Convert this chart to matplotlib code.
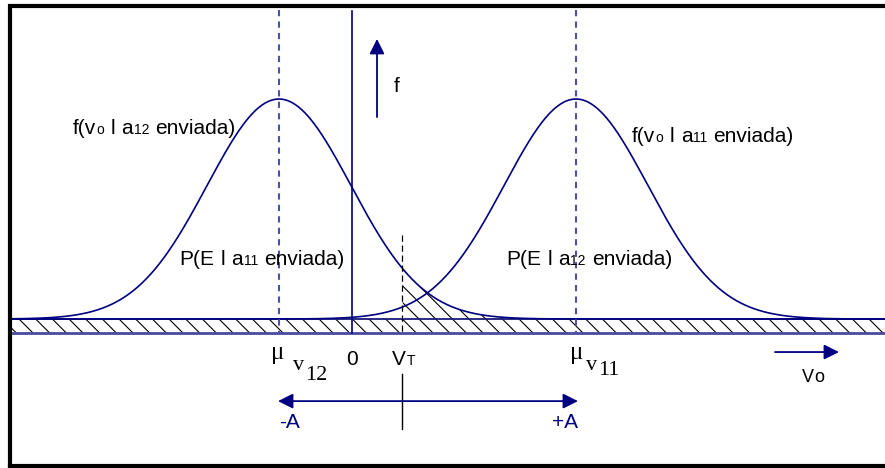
import matplotlib.pyplot as plt
import matplotlib.transforms as mtransforms
import numpy as np

# decision threshold diagram, v0 axis in arbitrary units (0 = origin line)
mu_v12 = -7.3
mu_v11 = 22.4
v_T = 5.0
sigma = 7.2
peak = 1.0
strip_depth = 0.064

x_range = [-34.2, 53.3]

NAVY = '#000080'
DASH_BLUE = '#5050a8'

# text labels: (text, fontsize, vertical offset px)
left_pdf_label = [("f(v", 15, 0), ("o", 10, 0), (" ", 15, 0), ("l", 15, 0), (" ", 15, 0),
                  ("a", 15, 0), ("12", 10, 0), (" ", 15, 0), ("enviada)", 15, 0)]
right_pdf_label = [("f(v", 15, 0), ("o", 10, 0), (" ", 15, 0), ("l", 15, 0), (" ", 15, 0),
                   ("a", 15, 0), ("11", 10, 0), (" ", 15, 0), ("enviada)", 15, 0)]
err11_label = [("P(E", 15, 0), (" ", 15, 0), ("l", 15, 0), (" ", 15, 0),
               ("a", 15, 0), ("11", 10, 0), (" ", 15, 0), ("enviada)", 15, 0)]
err12_label = [("P(E", 15, 0), (" ", 15, 0), ("l", 15, 0), (" ", 15, 0),
               ("a", 15, 0), ("12", 10, 0), (" ", 15, 0), ("enviada)", 15, 0)]
vt_label = [("V", 15, 0), ("T", 10, 0)]
mu12_sub = [("v", 16, 0), ("12", 16, -10)]
mu11_sub = [("v", 16, 0), ("11", 16, -5)]


def rich(ax, x, y, pieces, family='Liberation Sans', color='black', ha='left'):
    r = ax.figure.canvas.get_renderer()
    placed = []
    dx = 0.0
    for s, size, dy in pieces:
        if s == " ":
            a = ax.text(0, 0, "i i", fontsize=size, family=family)
            b = ax.text(0, 0, "ii", fontsize=size, family=family)
            dx += a.get_window_extent(r).width - b.get_window_extent(r).width
            a.remove()
            b.remove()
            continue
        t = ax.text(x, y, s, fontsize=size, family=family, color=color,
                    va='baseline', ha='left')
        placed.append((t, dx, dy))
        dx += t.get_window_extent(r).width + 0.5
    shift = {'left': 0, 'center': -dx / 2, 'right': -dx}[ha]
    for t, off, dy in placed:
        t.set_transform(mtransforms.offset_copy(ax.transData, fig=ax.figure,
                                                x=off + shift, y=dy, units='dots'))


plt.rcParams['hatch.linewidth'] = 0.8
plt.rcParams['hatch.color'] = 'black'

fig = plt.figure(figsize=(8.85, 4.68), dpi=100)
ax = fig.add_axes([0, 0, 1, 1])
ax.set_xlim(-35.2, 53.3)
ax.set_ylim(-0.677, 1.450)
ax.axis('off')

x = np.linspace(x_range[0], x_range[1], 1200)
g12 = peak * np.exp(-(x - mu_v12) ** 2 / (2 * sigma ** 2))
g11 = peak * np.exp(-(x - mu_v11) ** 2 / (2 * sigma ** 2))

# hatched strip and error region
ax.fill_between(x, -strip_depth, 0, facecolor='none', edgecolor='black',
                hatch='\\\\', linewidth=0)
mask = x >= v_T
ax.fill_between(x[mask], 0, g12[mask], facecolor='none', edgecolor='black',
                hatch='\\\\', linewidth=0)
ax.plot(x_range, [0, 0], color='#1a1a7a', lw=1.3)
ax.plot(x_range, [-strip_depth, -strip_depth], color='#4a4aa0', lw=2)

# densities
ax.plot(x, g12, color=NAVY, lw=1.2)
ax.plot(x, g11, color=NAVY, lw=1.2)

# mean lines, origin, threshold
for m in (mu_v12, mu_v11):
    ax.plot([m, m], [1.405, -strip_depth], color=DASH_BLUE, lw=1.5, dashes=(3, 2.5))
ax.plot([0, 0], [1.40, -strip_depth], color=NAVY, lw=1.2)
ax.plot([v_T, v_T], [0.382, -strip_depth], color='black', lw=0.9, dashes=(5, 3))

# arrows
arr = dict(arrowstyle='-|>,head_length=0.6,head_width=0.3', color=NAVY, lw=1.3,
           mutation_scale=15, shrinkA=0, shrinkB=0)
ax.annotate('', xy=(2.5, 1.273), xytext=(2.5, 0.918), arrowprops=arr)
ax.annotate('', xy=(48.7, -0.15), xytext=(42.3, -0.15), arrowprops=arr)
arr2 = dict(arr, arrowstyle='<|-|>,head_length=0.6,head_width=0.3')
ax.annotate('', xy=(mu_v11 + 0.2, -0.373), xytext=(mu_v12 - 0.1, -0.373), arrowprops=arr2)
ax.plot([v_T, v_T], [-0.25, -0.50], color='black', lw=1.0)

# labels
ax.text(4.2, 1.03, "f", fontsize=15, family='Liberation Sans', va='baseline')
rich(ax, -27.9, 0.841, left_pdf_label)
rich(ax, 28.0, 0.805, right_pdf_label)
rich(ax, -0.7, 0.245, err11_label, ha='right')
rich(ax, 15.4, 0.245, err12_label)
ax.text(0, -0.209, "0", fontsize=15, family='Liberation Sans', va='baseline', ha='center')
rich(ax, 4.0, -0.209, vt_label)
ax.text(-8.1, -0.182, "\u03bc", fontsize=18, family='Liberation Serif', va='baseline')
rich(ax, -5.9, -0.232, mu12_sub, family='Liberation Serif')
ax.text(21.8, -0.182, "\u03bc", fontsize=18, family='Liberation Serif', va='baseline')
rich(ax, 23.4, -0.232, mu11_sub, family='Liberation Serif')
ax.text(-6.3, -0.468, "-A", fontsize=15, family='Liberation Sans', color=NAVY,
        ha='center', va='center')
ax.text(21.3, -0.468, "+A", fontsize=15, family='Liberation Sans', color=NAVY,
        ha='center', va='center')
rich(ax, 45.0, -0.286, [("V", 13, 0), ("o", 13, 0)])

# frame (left, top, bottom)
ax.plot([9.5 / 885, 9.5 / 885, 1], [1 - 465.5 / 468, 1 - 6 / 468, 1 - 6 / 468],
        color='black', lw=3, transform=ax.transAxes, solid_joinstyle='miter', clip_on=False)
ax.plot([9.5 / 885, 1], [1 - 465.5 / 468, 1 - 465.5 / 468], color='black', lw=3,
        transform=ax.transAxes, clip_on=False)

fig.savefig('out.png', dpi=100)
